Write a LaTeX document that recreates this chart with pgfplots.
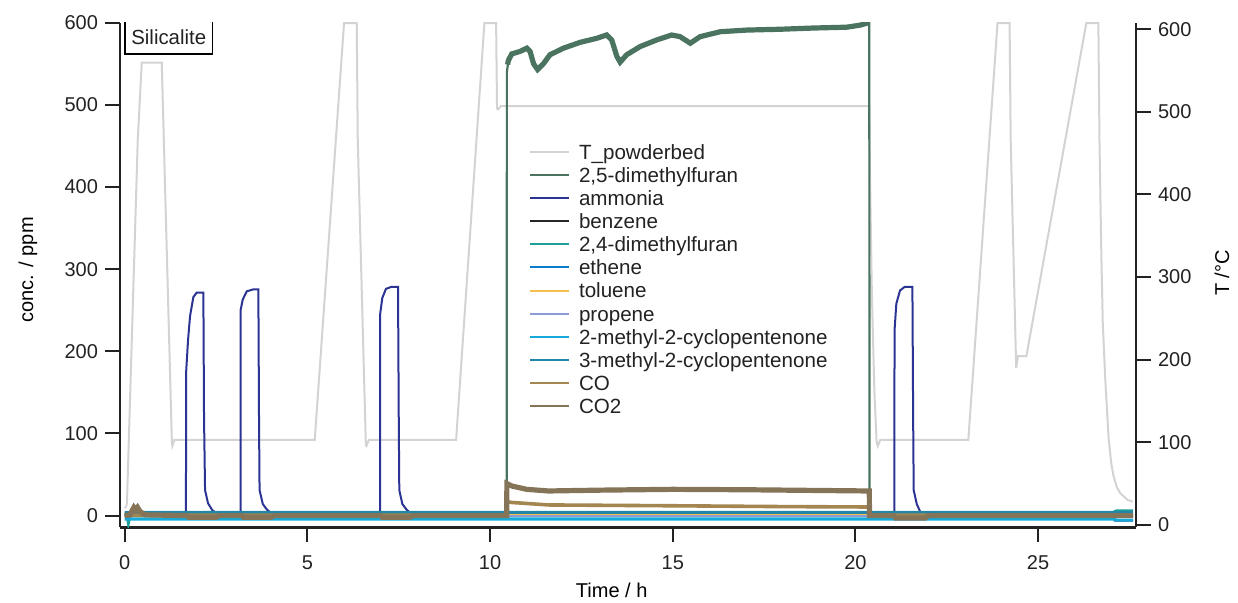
\documentclass[border=0pt]{standalone}
\usepackage{fontspec}
\setmainfont{Liberation Sans}
\usepackage{pgfplots}
\pgfplotsset{compat=1.18}
\definecolor{cT}{HTML}{D3D3D3}
\definecolor{cDMF}{HTML}{4A7360}
\definecolor{cNH}{HTML}{2B3393}
\definecolor{cBz}{HTML}{262626}
\definecolor{cDMF24}{HTML}{1A9E96}
\definecolor{cEth}{HTML}{0B7BCB}
\definecolor{cTol}{HTML}{F7BE4E}
\definecolor{cProp}{HTML}{8D9BD3}
\definecolor{cMCPa}{HTML}{16A9DA}
\definecolor{cMCPb}{HTML}{2385A8}
\definecolor{cCO}{HTML}{A38650}
\definecolor{cCOtwo}{HTML}{857458}
\definecolor{txt}{HTML}{222222}
\pgfplotsset{
  common/.style={
    scale only axis, width=508pt, height=252.3pt,
    at={(0pt,0pt)}, anchor=south west,
    xmin=-0.13, xmax=27.68,
    tick align=outside,
    major tick length=7.5pt,
    tick style={line width=1pt, color=txt},
    axis line style={line width=1.3pt, -, color=txt},
    /pgf/number format/assume math mode=true,
    tick label style={font=\fontsize{10}{12}\selectfont, color=txt},
    label style={font=\fontsize{10.3}{12}\selectfont, color=txt},
    ytick={0,100,200,300,400,500,600},
    minor tick num=0,
  }
}
\begin{document}
\begin{tikzpicture}
\useasboundingbox (-60pt,-37.85pt) rectangle (559pt,263.65pt);
% right axis: temperature
\begin{axis}[common,
  ymin=-3.15, ymax=608,
  axis x line=none, axis y line*=right,
  ylabel={T /°C},
  every axis y label/.style={at={(axis description cs:1.0846,0.504)}, rotate=90, anchor=center},
  clip=false,
]
\addplot[cT, line width=1pt] coordinates {
(0,20) (0.04,22) (0.06,26) (0.356,466) (0.465,559.5) (1.013,559.5)
(1.29,100) (1.303,95.3) (1.36,102.6) (5.20,102.6) (6.003,607.5) (6.35,607.5)
(6.378,466) (6.60,96) (6.615,95.3) (6.68,102.6) (9.07,102.6) (9.844,607.5)
(10.165,607.5) (10.19,504) (10.22,503) (10.30,507) (20.38,507)
(20.40,420) (20.45,280) (20.52,160) (20.58,100) (20.61,95.3) (20.68,102.6)
(23.09,102.6) (23.89,607.5) (24.22,607.5) (24.25,466) (24.40,189.8)
(24.45,204.3) (24.68,204.3) (26.32,607.5) (26.65,607.5) (26.68,466)
(26.73,330) (26.77,245) (26.84,175) (26.93,105) (27.00,75) (27.06,60)
(27.15,46) (27.25,38) (27.45,30) (27.59,27.8)
};
\end{axis}
% left axis: concentrations
\begin{axis}[common,
  ymin=-14.2, ymax=600,
  axis x line*=bottom, axis y line*=left,
  xtick={0,5,10,15,20,25},
  xticklabel style={yshift=-3pt},
  xlabel={Time / h}, ylabel={conc. / ppm},
  every axis x label/.style={at={(axis description cs:0.484,-0.124)}, anchor=center},
  every axis y label/.style={at={(axis description cs:-0.0906,0.51)}, rotate=90, anchor=center},
  legend style={at={(axis description cs:0.4026,0.757)}, anchor=north west,
    draw=none, fill=none, inner sep=0pt, outer sep=0pt,
    font=\fontsize{10.3}{12}\selectfont, text=txt,
    row sep=2.55pt, column sep=4.5pt,
    nodes={inner sep=0pt, text height=7pt, text depth=2pt}},
  legend cell align=left,
  legend image code/.code={\draw[#1] (0pt,1.2pt) -- (19.5pt,1.2pt);},
  legend image post style={line width=1pt},
]
\addlegendimage{cT, line width=1pt}
\addlegendentry{T\_powderbed}
\addplot[cDMF, line width=1.1pt] coordinates {
(0,0) (10.455,0) (10.46,540) (10.50,554) (10.594,562) (10.82,565) (11.005,569)
(11.095,565) (11.19,550) (11.30,543) (11.46,550) (11.64,561) (12.01,569)
(12.46,576) (12.92,581) (13.19,585) (13.33,579) (13.47,559) (13.56,552)
(13.74,561) (14.11,571) (14.56,579) (14.97,585) (15.20,583) (15.48,575)
(15.75,583) (16.30,589) (17.03,591) (17.94,592) (18.85,593.5) (19.76,594.5)
(20.13,597) (20.36,601) (20.38,601) (20.385,0) (27.6,0)
};
\addlegendentry{2,5-dimethylfuran}
\addplot[cDMF, line width=2.6pt, forget plot] coordinates {
(10.48,549) (10.50,554) (10.594,562) (10.82,565) (11.005,569)
(11.095,565) (11.19,550) (11.30,543) (11.46,550) (11.64,561) (12.01,569)
(12.46,576) (12.92,581) (13.19,585) (13.33,579) (13.47,559) (13.56,552)
(13.74,561) (14.11,571) (14.56,579) (14.97,585) (15.20,583) (15.48,575)
(15.75,583) (16.30,589) (17.03,591) (17.94,592) (18.85,593.5) (19.76,594.5)
(20.13,597) (20.36,600)
};
\addplot[cNH, line width=1pt] coordinates {
(0,0) (1.676,0) (1.678,173) (1.733,214) (1.788,243) (1.878,266) (1.971,271.5)
(2.152,271.5) (2.17,120) (2.198,31) (2.28,15) (2.39,7) (2.50,3) (2.66,0.5)
(3.173,0) (3.175,251) (3.23,263) (3.34,273) (3.52,275.4) (3.657,275.4)
(3.675,120) (3.69,31) (3.78,14) (3.90,7) (3.98,4) (4.2,0.5)
(6.988,0) (6.99,245) (7.05,265) (7.15,276) (7.30,278.5) (7.48,278.5)
(7.50,120) (7.515,31) (7.60,14) (7.72,7) (7.80,4) (8.0,0.5)
(21.068,0) (21.07,225) (21.12,258) (21.22,274) (21.35,278.5) (21.56,278.5)
(21.58,120) (21.595,31) (21.68,14) (21.77,5) (21.95,0.5)
(27.05,0) (27.1,-6) (27.6,-6)
};
\addlegendentry{ammonia}
\addplot[cBz, line width=1pt] coordinates {(0,0.5) (27.6,0.5)};
\addlegendentry{benzene}
\addplot[cDMF24, line width=1.8pt] coordinates {
(0,3) (0.06,3) (0.1,-7) (0.14,2) (0.2,3.5) (27.05,3.5) (27.15,5.5) (27.6,5.5)};
\addlegendentry{2,4-dimethylfuran}
\addplot[cEth, line width=1.2pt] coordinates {(0,0) (27.6,0)};
\addlegendentry{ethene}
\addplot[cTol, line width=1pt] coordinates {(0,1) (27.6,1)};
\addlegendentry{toluene}
\addplot[cProp, line width=1pt] coordinates {(0,0) (27.6,0)};
\addlegendentry{propene}
\addplot[cMCPa, line width=1.6pt] coordinates {
(0,-4) (27.05,-4) (27.15,-5.5) (27.6,-5.5)};
\addlegendentry{2-methyl-2-cyclopentenone}
\addplot[cMCPb, line width=1.6pt] coordinates {(0,4) (27.6,4)};
\addlegendentry{3-methyl-2-cyclopentenone}
\addplot[cCO, line width=1.8pt] coordinates {
(0,0.5) (10.455,0.5) (10.46,17) (10.6,16) (11.6,13) (15,12) (18,11)
(20.38,10.5) (20.385,0.5) (27.6,0.5)};
\addlegendentry{CO}
\addplot[cCOtwo, line width=2.6pt] coordinates {
(0,0) (0.15,1) (0.2,6) (0.25,10) (0.3,7) (0.35,10) (0.42,5) (0.55,1)
(1.7,0) (1.75,-2) (2.5,-2) (2.6,0) (3.2,0) (3.25,-2) (4.0,-2) (4.1,0)
(7.0,0) (7.05,-2) (7.8,-2) (7.9,0) (10.455,0) (10.46,39) (10.6,36) (11.0,32)
(11.6,30) (13,31) (15,32) (17,31.5) (20.38,30) (20.385,0)
(21.05,0) (21.1,-3) (21.9,-3) (22.0,0) (27.6,0)};
\addlegendentry{CO2}
\node[draw=black, line width=0.8pt, anchor=north west, minimum width=43.7pt,
  minimum height=17pt, inner sep=1pt, font=\fontsize{10.2}{12}\selectfont, text=txt]
  at (axis description cs:0.0042,1.0067) {Silicalite};
\end{axis}
\end{tikzpicture}
\end{document}
